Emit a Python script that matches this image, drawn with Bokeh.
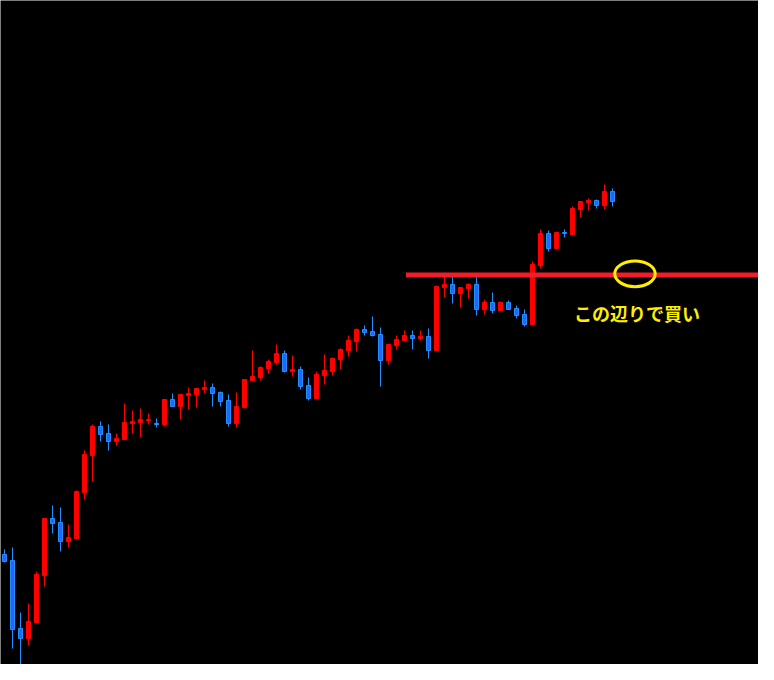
from bokeh.plotting import figure
from bokeh.models import Range1d, ColumnDataSource
from bokeh.core.properties import value
from bokeh.embed import file_html
from bokeh.resources import INLINE

# OHLC data (77 bars)
opens = [111.26, 111.20, 110.52, 110.42, 110.58, 111.05, 111.62, 111.58, 111.39, 111.42,
         111.88, 112.25, 112.54, 112.47, 112.39, 112.41, 112.57, 112.58, 112.60, 112.57,
         112.56, 112.81, 112.74, 112.85, 112.86, 112.91, 112.93, 112.88, 112.80, 112.57,
         112.73, 113.00, 113.03, 113.12, 113.18, 113.27, 113.09, 113.11, 112.95, 112.82,
         113.05, 113.09, 113.21, 113.30, 113.39, 113.51, 113.49, 113.46, 113.20, 113.35,
         113.40, 113.45, 113.42, 113.44, 113.30, 113.93, 113.96, 113.87, 113.92, 113.96,
         113.71, 113.78, 113.70, 113.78, 113.72, 113.66, 113.56, 114.15, 114.47, 114.32,
         114.48, 114.46, 114.71, 114.78, 114.80, 114.75, 114.89]
highs = [111.31, 111.33, 110.68, 110.77, 111.09, 111.62, 111.75, 111.73, 111.56, 111.90,
         112.30, 112.56, 112.59, 112.56, 112.47, 112.77, 112.70, 112.72, 112.67, 112.62,
         112.81, 112.87, 112.86, 112.93, 112.92, 113.00, 112.97, 112.89, 112.86, 112.88,
         113.01, 113.30, 113.14, 113.21, 113.36, 113.30, 113.25, 113.14, 113.03, 113.09,
         113.26, 113.23, 113.32, 113.45, 113.52, 113.55, 113.64, 113.53, 113.36, 113.45,
         113.50, 113.50, 113.50, 113.52, 113.95, 114.04, 114.04, 113.93, 113.97, 114.04,
         113.81, 113.88, 113.79, 113.80, 113.75, 113.71, 114.19, 114.51, 114.50, 114.48,
         114.51, 114.74, 114.79, 114.82, 114.81, 114.96, 114.92]
lows = [111.18, 110.32, 110.13, 110.35, 110.58, 110.94, 111.47, 111.29, 111.33, 111.42,
        111.81, 111.99, 112.39, 112.30, 112.35, 112.41, 112.47, 112.43, 112.56, 112.53,
        112.54, 112.74, 112.61, 112.71, 112.73, 112.87, 112.74, 112.74, 112.54, 112.53,
        112.72, 113.00, 113.00, 113.07, 113.16, 113.08, 113.04, 112.91, 112.80, 112.82,
        112.96, 113.05, 113.11, 113.24, 113.29, 113.45, 113.44, 112.94, 113.16, 113.31,
        113.40, 113.31, 113.40, 113.22, 113.30, 113.83, 113.77, 113.73, 113.82, 113.65,
        113.66, 113.67, 113.70, 113.71, 113.62, 113.54, 113.56, 114.12, 114.29, 114.32,
        114.43, 114.46, 114.63, 114.70, 114.72, 114.71, 114.74]
closes = [111.19, 110.51, 110.42, 110.59, 111.06, 111.62, 111.57, 111.39, 111.43, 111.89,
          112.26, 112.54, 112.46, 112.39, 112.42, 112.58, 112.59, 112.61, 112.61, 112.56,
          112.81, 112.74, 112.86, 112.87, 112.92, 112.93, 112.87, 112.79, 112.57, 112.74,
          113.01, 113.04, 113.13, 113.19, 113.27, 113.09, 113.11, 112.94, 112.82, 113.06,
          113.10, 113.22, 113.31, 113.40, 113.51, 113.48, 113.45, 113.20, 113.36, 113.41,
          113.45, 113.42, 113.44, 113.30, 113.94, 113.96, 113.87, 113.93, 113.96, 113.71,
          113.78, 113.70, 113.78, 113.71, 113.65, 113.56, 114.16, 114.47, 114.32, 114.48,
          114.47, 114.72, 114.79, 114.80, 114.75, 114.89, 114.79]

# annotation
buy_level = 114.055
buy_label = "この辺りで買い"

UP_COLOR = "#FF0000"
DOWN_LINE = "#1E90FF"
DOWN_FILL = "#2962FF"
LEVEL_COLOR = "#F01E28"
NOTE_COLOR = "#FFEE00"

idx = list(range(len(opens)))
up = [c >= o for o, c in zip(opens, closes)]

src = ColumnDataSource(dict(
    x=idx,
    high=highs,
    low=lows,
    top=[max(o, c) for o, c in zip(opens, closes)],
    bottom=[min(o, c) for o, c in zip(opens, closes)],
    wick=[UP_COLOR if u else DOWN_LINE for u in up],
    fill=[UP_COLOR if u else DOWN_FILL for u in up],
    edge=[UP_COLOR if u else DOWN_LINE for u in up],
))

p = figure(width=758, height=664, output_backend="svg", toolbar_location=None,
           x_axis_type=None, y_axis_type=None,
           x_range=Range1d(-0.5, 94.25), y_range=Range1d(110.16, 116.80),
           min_border=0, background_fill_color="black", border_fill_color="black")
p.outline_line_color = None
p.grid.visible = False

p.segment(x0="x", y0="low", x1="x", y1="high", color="wick", line_width=1, source=src)
p.vbar(x="x", top="top", bottom="bottom", width=0.5, fill_color="fill",
       line_color="edge", line_width=1, source=src)

# horizontal buy level
p.segment(x0=[50.19], y0=[buy_level], x1=[100], y1=[buy_level],
          line_color=LEVEL_COLOR, line_width=5)

# ellipse marker
p.ellipse(x=[78.81], y=[114.067], width=5.05, height=0.257, fill_alpha=0,
          line_color=NOTE_COLOR, line_width=3)

p.text(x=[71.2], y=[113.68], text=[buy_label], text_font=value("Noto Sans CJK JP"),
       text_font_style="bold", text_font_size="18px", text_baseline="middle",
       text_align="left", text_color=NOTE_COLOR)

open("out.html", "w").write(file_html(p, INLINE))
